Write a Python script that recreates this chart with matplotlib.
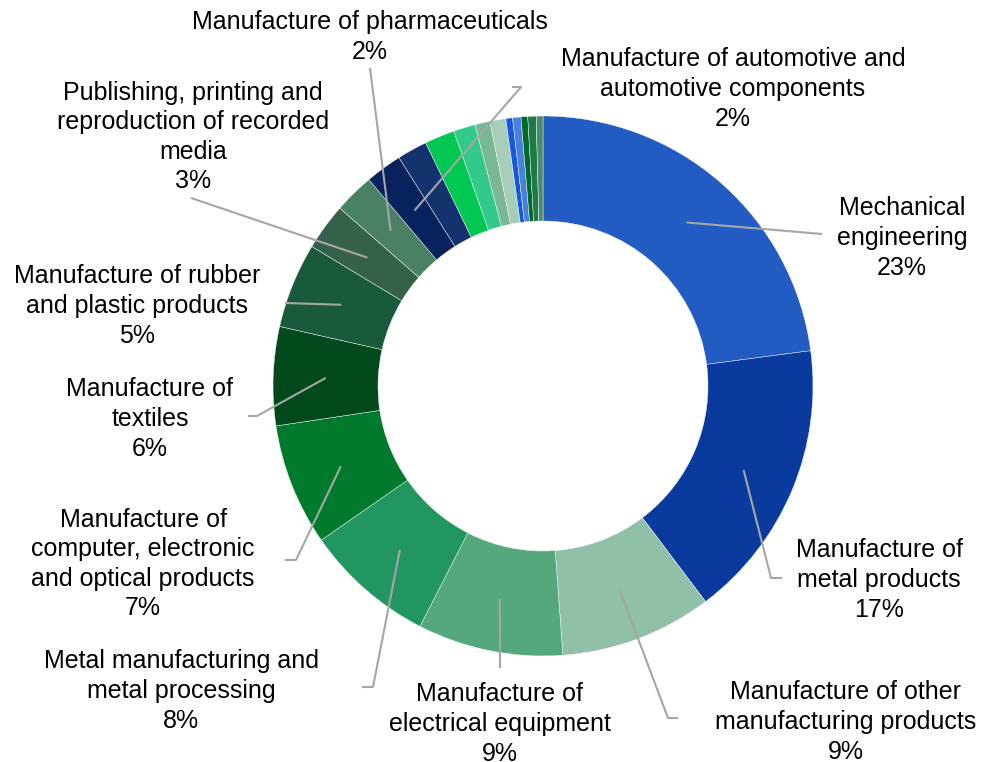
import numpy as np
import matplotlib
matplotlib.use("Agg")
import matplotlib.pyplot as plt

plt.rcParams['font.family'] = ['Liberation Sans', 'DejaVu Sans']

# Share of manufacturing sectors (percent), clockwise from 12 o'clock
categories = [
    "Mechanical\nengineering",
    "Manufacture of\nmetal products",
    "Manufacture of other\nmanufacturing products",
    "Manufacture of\nelectrical equipment",
    "Metal manufacturing and\nmetal processing",
    "Manufacture of\ncomputer, electronic\nand optical products",
    "Manufacture of\ntextiles",
    "Manufacture of rubber\nand plastic products",
    "Publishing, printing and\nreproduction of recorded\nmedia",
    "Manufacture of pharmaceuticals",
    "Manufacture of automotive and\nautomotive components",
    "", "", "", "", "", "", "", "", "", "",
]
values = [22.9, 16.8, 9.1, 8.7, 7.8, 7.3, 5.9, 5.1, 2.8, 2.4, 2.2,
          1.8, 1.8, 1.3, 0.9, 0.95, 0.4, 0.5, 0.4, 0.5, 0.4]
colors = ["#225BC2", "#0B3A9E", "#91C0A8", "#55A87C", "#229660", "#017A2E",
          "#024A1C", "#1A5A3C", "#35614A", "#4A8064", "#08225E",
          "#14326E", "#00C853", "#33C98A", "#7AB895", "#A8CDB9",
          "#1558E0", "#4A80DC", "#006A2A", "#1E7A4A", "#4E8A6A"]

W, H = 989, 762
fig = plt.figure(figsize=(W / 100, H / 100), dpi=100)
ax = fig.add_axes([0, 0, 1, 1])

cx, cy = 543, H - 386
R_out, ring = 270, 105

ax.pie(values, colors=colors, startangle=90, counterclock=False,
       radius=R_out, center=(cx, cy), frame=True,
       wedgeprops=dict(width=ring, edgecolor="white", linewidth=0.3))
ax.set_xlim(0, W)
ax.set_ylim(0, H)
ax.set_aspect('equal')
ax.axis('off')

total = sum(values)
cum = np.cumsum([0] + values)

# label block centres and leader-line elbows (pixel coords, y from top)
layout = {
    0: ((902, 238), [(822, 234)]),
    1: ((879, 580), [(782, 578), (771, 578)]),
    2: ((846, 722), [(678, 718), (668, 718)]),
    3: ((500, 724), [(500, 668)]),
    4: ((181, 691), [(362, 687), (373, 687)]),
    5: ((143, 564), [(285, 560), (296, 560)]),
    6: ((150, 419), [(248, 416), (257, 416)]),
    7: ((137, 306), [(285, 303)]),
    8: ((193, 137), [(191, 198)]),
    9: ((370, 37), [(370, 68)]),
    10: ((733, 89), [(512, 87), (521, 87)]),
}

r_mid = R_out - ring / 2
for i, ((tx, ty), elbow) in layout.items():
    mid = (cum[i] + cum[i + 1]) / 2 / total * 2 * np.pi
    px = cx + r_mid * np.sin(mid)
    py = cy + r_mid * np.cos(mid)
    xs = [p[0] for p in elbow] + [px]
    ys = [H - p[1] for p in elbow] + [py]
    ax.plot(xs, ys, color="#A6A6A6", lw=1.5, solid_capstyle="butt")
    pct = f"{round(values[i] / total * 100)}%"
    ax.text(tx, H - ty, categories[i] + "\n" + pct, ha="center", va="center",
            fontsize=18, color="#000000", linespacing=1.29, clip_on=False)

fig.savefig("out.png", dpi=100)
